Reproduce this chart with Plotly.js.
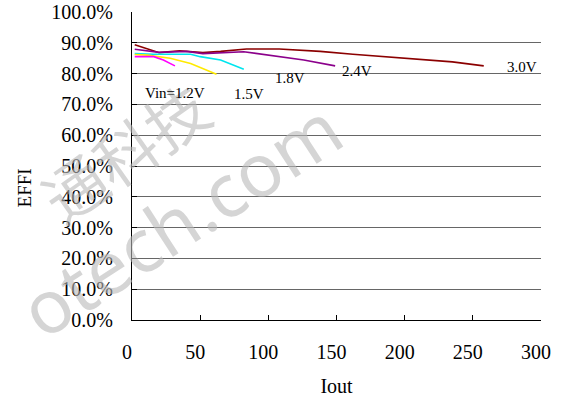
<!DOCTYPE html>
<html>
<head>
<meta charset="utf-8">
<script src="https://cdn.plot.ly/plotly-3.0.1.min.js"></script>
<style>html,body{margin:0;padding:0;background:#fff;}#chart{width:562px;height:401px;}</style>
</head>
<body>
<div id="chart"></div>
<script>
// Data (Iout, efficiency %)
const v30_x = [2, 20, 35, 52, 65, 84, 108, 138, 162, 187, 211, 235, 258];
const v30_y = [89.4, 86.8, 87.4, 86.8, 87.2, 88.0, 88.0, 87.2, 86.3, 85.5, 84.7, 83.8, 82.5];
const v24_x = [2, 20, 40, 52, 82, 101, 126, 149];
const v24_y = [87.9, 86.9, 87.2, 86.5, 87.1, 86.0, 84.4, 82.5];
const v18_x = [2, 16, 43, 50, 65, 82];
const v18_y = [86.5, 86.3, 86.3, 85.5, 84.4, 81.4];
const v15_x = [2, 11, 28, 43, 62];
const v15_y = [86.2, 86.0, 85.0, 83.3, 79.8];
const v12_x = [2, 16, 23, 31.5];
const v12_y = [85.5, 85.5, 84.4, 82.5];

const seriesNames = ["3.0V", "2.4V", "1.8V", "1.5V", "Vin=1.2V"];
const labelX = [286, 165, 116, 86, 31.5];
const labelY = [82.1, 80.8, 78.6, 73.4, 73.7];
const yTickVals = [0, 10, 20, 30, 40, 50, 60, 70, 80, 90, 100];
const yTickText = ["0.0%", "10.0%", "20.0%", "30.0%", "40.0%", "50.0%", "60.0%", "70.0%", "80.0%", "90.0%", "100.0%"];
const xTickVals = [0, 50, 100, 150, 200, 250, 300];

const serif = "Liberation Serif, DejaVu Serif, serif";
const colors = ["#8b0000", "#8b008b", "#00e5ee", "#ffea00", "#ff00ff"];
const xs = [v30_x, v24_x, v18_x, v15_x, v12_x];
const ys = [v30_y, v24_y, v18_y, v15_y, v12_y];

const traces = xs.map((x, i) => ({
  x: x, y: ys[i], type: "scatter", mode: "lines", name: seriesNames[i],
  line: {color: colors[i], width: 1.6}, hoverinfo: "x+y"
}));

const annotations = [];
// watermark (drawn first)
annotations.push({
  x: -0.02, y: 0.55, xref: "paper", yref: "paper", xanchor: "center", yanchor: "middle",
  text: "通科技", showarrow: false, textangle: -35,
  font: {family: "Noto Sans CJK SC, sans-serif", size: 62, color: "rgba(185,185,185,0.6)"}
});
annotations.push({
  x: 0.117, y: 0.331, xref: "paper", yref: "paper", xanchor: "center", yanchor: "middle",
  text: "otech.com", showarrow: false, textangle: -33,
  font: {family: "Noto Sans, sans-serif", size: 74, color: "rgba(185,185,185,0.6)"}
});
seriesNames.forEach((t, i) => annotations.push({
  x: labelX[i], y: labelY[i], xref: "x", yref: "y", text: t, showarrow: false,
  font: {family: serif, size: 15, color: "#000"}
}));
annotations.push({
  x: -0.262, y: 0.43, xref: "paper", yref: "paper", xanchor: "center", yanchor: "middle",
  text: "EFFI", showarrow: false, textangle: -90,
  font: {family: serif, size: 19, color: "#000"}
});

const layout = {
  width: 562, height: 401,
  margin: {l: 132, r: 21, t: 12, b: 81},
  paper_bgcolor: "#fff", plot_bgcolor: "#fff",
  showlegend: false,
  xaxis: {
    range: [0, 300], tickvals: xTickVals, ticks: "inside", ticklen: 5, tickcolor: "#000",
    showgrid: false, zeroline: false, showline: true, linecolor: "#000", linewidth: 1,
    tickfont: {family: serif, size: 20, color: "#000"}, ticklabelstandoff: 14, ticklabelshift: -5,
    title: {text: "Iout", font: {family: serif, size: 20, color: "#000"}, standoff: 16}
  },
  yaxis: {
    range: [0, 100], tickvals: yTickVals, ticktext: yTickText, ticks: "inside", ticklen: 5, tickcolor: "#000",
    showgrid: true, gridcolor: "#666", gridwidth: 1, zeroline: false,
    showline: true, linecolor: "#000", linewidth: 1,
    tickfont: {family: serif, size: 20, color: "#000"}, ticklabelstandoff: 14
  },
  annotations: annotations
};

Plotly.newPlot("chart", traces, layout, {displayModeBar: false, staticPlot: true});
</script>
</body>
</html>
